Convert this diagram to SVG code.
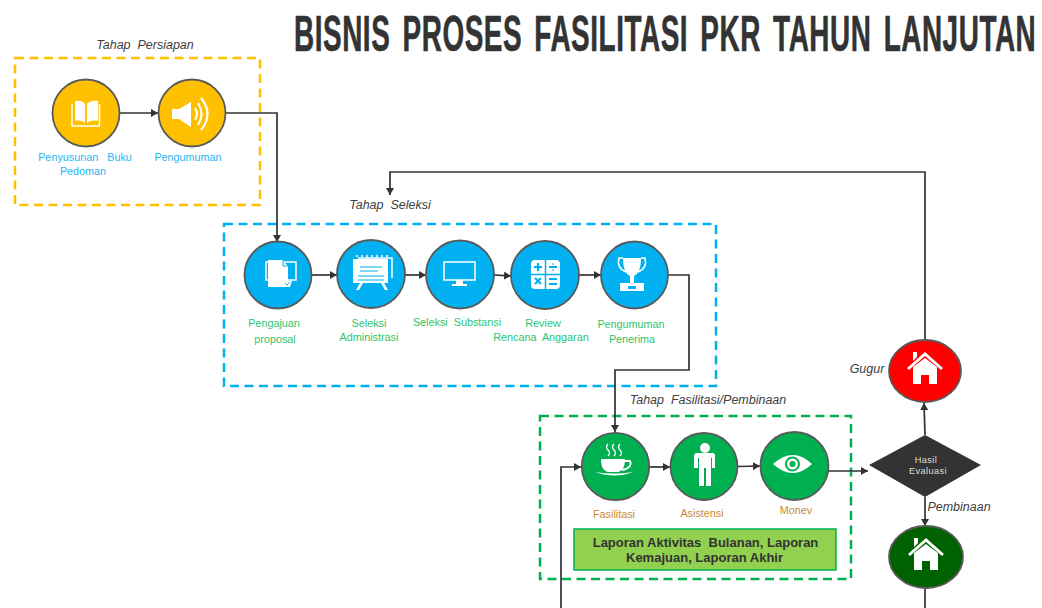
<svg xmlns="http://www.w3.org/2000/svg" width="1042" height="608" viewBox="0 0 1042 608">
<style>
text{font-family:"Liberation Sans",Arial,sans-serif}
.c{stroke:#595959;stroke-width:1.800}
.y{fill:#FFC000}.b{fill:#00B0F0}.g{fill:#00B050}
.l{font-size:10.800px;text-anchor:middle}
.lb{fill:#29B6F0}.lg{fill:#2DC46E}.lo{fill:#C98A2E}
.h{font-size:12.500px;font-style:italic;fill:#404040}
.box{fill:none;stroke-width:2.500;stroke-dasharray:9 5.500}
.con{fill:none;stroke:#333;stroke-width:1.700}
.w{fill:#fff}
.ws{fill:none;stroke:#fff}
.lap{font-size:13px;font-weight:700;fill:#333;text-anchor:middle}
.ev{font-size:9.200px;fill:#ddd;text-anchor:middle;letter-spacing:.4px}
</style>
<defs>
<marker id="a" markerUnits="userSpaceOnUse" markerWidth="8" markerHeight="8" refX="7" refY="4" orient="auto"><path d="M0 0L7 4L0 8z" fill="#333"/></marker>
<g id="house"><path class="w" d="M-12-3L0-12L12-3V14H4V5H-4V14H-12z"/><path class="ws" stroke-width="3" d="M-17-1L0-16L17-1"/><path class="w" d="M-12-18H-8V-13L-12-9z"/></g>
</defs>
<text id="title" transform="translate(294 51) scale(.558 1)" font-size="50" font-weight="700" fill="#333" stroke="#333" stroke-width=".6" letter-spacing="1" word-spacing="7">BISNIS PROSES FASILITASI PKR TAHUN LANJUTAN</text>

<g id="stage-persiapan"><rect class="box" x="15" y="58" width="245" height="147" stroke="#FFC000"/><text class="h" x="145" y="49" text-anchor="middle" xml:space="preserve">Tahap  Persiapan</text></g>
<g id="stage-seleksi"><rect class="box" x="224" y="224" width="492" height="162" stroke="#00B0F0"/><text class="h" x="390" y="209" text-anchor="middle" xml:space="preserve">Tahap  Seleksi</text></g>
<g id="stage-fasilitasi"><rect class="box" x="540" y="416" width="311" height="163" stroke="#00B050"/><text class="h" x="708" y="404" text-anchor="middle" xml:space="preserve">Tahap  Fasilitasi/Pembinaan</text></g>

<g id="connectors">
<path class="con" marker-end="url(#a)" d="M120 113H158"/>
<path class="con" marker-end="url(#a)" d="M226 113H277V242"/>
<path class="con" marker-end="url(#a)" d="M312 275H337"/>
<path class="con" marker-end="url(#a)" d="M405 275H426"/>
<path class="con" marker-end="url(#a)" d="M494 275L511 276"/>
<path class="con" marker-end="url(#a)" d="M579 275H601"/>
<path class="con" marker-end="url(#a)" d="M668 275H689V370H615V432"/>
<path class="con" marker-end="url(#a)" d="M561 608V467H581"/>
<path class="con" marker-end="url(#a)" d="M649 467H670"/>
<path class="con" marker-end="url(#a)" d="M738 466.500L760 466"/>
<path class="con" marker-end="url(#a)" d="M828 471H868"/>
<path class="con" marker-end="url(#a)" d="M925 435L924 403"/>
<path class="con" marker-end="url(#a)" d="M925 497V526"/>
<path class="con" d="M925 588V608"/>
<path class="con" marker-end="url(#a)" d="M925 340V172H390V195"/>
</g>

<g id="n-penyusunan"><circle class="c y" cx="86" cy="113" r="33.500"/>
<path class="w" d="M75 101C80 100 84 102 85 104V123C83 121 79 120 75 121zM87 104C89 102 93 100 98 101V121C94 120 90 121 87 123z"/>
<path class="ws" stroke-width="1.500" d="M72 104V126H99.500V104"/>
<text class="l lb" x="85" y="161" xml:space="preserve">Penyusunan   Buku</text><text class="l lb" x="83" y="175">Pedoman</text></g>

<g id="n-pengumuman"><circle class="c y" cx="192" cy="113" r="33.500"/>
<path class="w" d="M172 109H179L191 102V127L179 119H172z"/>
<path class="ws" stroke-width="2.200" d="M195 108Q199 114 195 120M198 103Q205 114 198 125M201 98Q214 114 201 130"/>
<text class="l lb" x="188" y="161">Pengumuman</text></g>

<g id="n-pengajuan"><circle class="c b" cx="278" cy="275" r="33.500"/>
<path class="ws" stroke-width="1.500" d="M266 262H296V280H266z"/><path class="w" d="M268 260H282L288 266V287H268z"/><path d="M283 261V266H288" fill="none" stroke="#00B0F0"/><path class="w" d="M284 281H292L290 287H283z"/><path d="M285 283L287 285L290 282" fill="none" stroke="#00B0F0"/>
<text class="l lg" x="274" y="327">Pengajuan</text><text class="l lg" x="275" y="343">proposal</text></g>

<g id="n-seleksi-adm"><circle class="c b" cx="371" cy="274" r="34"/>
<path class="w" d="M353 259H388V283H353z"/><path class="ws" stroke-width="1.500" d="M358 258H392V278"/><path class="ws" stroke-width="1.300" stroke-dasharray="2 3" d="M356 256H390"/>
<path d="M360 267H382M360 271H378" stroke="#00B0F0" stroke-width="1"/><path d="M358 276H384M358 280H384" stroke="#00B0F0" stroke-width="1"/>
<path class="w" d="M360 283H363L359 290H356zM381 283H384L388 290H385z"/>
<text class="l lg" x="369" y="327">Seleksi</text><text class="l lg" x="369" y="341">Administrasi</text></g>

<g id="n-seleksi-sub"><circle class="c b" cx="460" cy="274.500" r="34"/>
<rect x="444" y="262" width="31" height="18" fill="none" stroke="#fff" stroke-width="1.500"/><path class="w" d="M456 280H463V284H467V286H452V284H456z"/>
<text class="l lg" x="457" y="326" xml:space="preserve">Seleksi  Substansi</text></g>

<g id="n-review"><circle class="c b" cx="545" cy="275" r="34"/>
<rect class="w" x="531" y="260" width="29" height="29" rx="4"/><path d="M545.500 260V289M531 274.500H560" stroke="#00B0F0" stroke-width="1.500"/>
<path d="M534 267H542M538 263V271M549 267H557M535 278L541 284M541 278L535 284M549 279H557M549 284H557" stroke="#00B0F0" stroke-width="2.200"/><path d="M553 263.500V264.500M553 269.500V270.500" stroke="#00B0F0" stroke-width="2"/>
<text class="l lg" x="543" y="327">Review</text><text class="l lg" x="541" y="341" xml:space="preserve">Rencana  Anggaran</text></g>

<g id="n-penerima"><circle class="c b" cx="634.500" cy="275" r="33.500"/>
<path class="w" d="M623 258H641C641 269 638 274 634 276V283H630V276C626 274 623 269 623 258z"/><path class="ws" stroke-width="1.500" d="M623 258H619C617 266 621 270 626 272M641 258H645C647 266 643 270 638 272"/>
<path class="w" d="M620 283H644V291H620z"/><rect x="628" y="286" width="8" height="3" rx="1" fill="#00B0F0"/>
<text class="l lg" x="631" y="328">Pengumuman</text><text class="l lg" x="632" y="343">Penerima</text></g>

<g id="n-fasilitasi"><circle class="c g" cx="615.500" cy="466.500" r="33.700"/>
<path class="w" d="M601 459H625C625 468 622 471 618 472H608C604 471 601 468 601 459z"/><path class="ws" stroke-width="1.800" d="M624 461H630C632 465 629 469 622 470"/>
<path class="w" d="M595 472Q614 475 633 472Q615 479 595 472z"/>
<path class="ws" stroke-width="1.300" d="M608 444Q605 447 608 450Q611 453 608 456M614 444Q611 447 614 450Q617 453 614 456M620 444Q617 447 620 450Q623 453 620 456"/>
<text class="l lo" x="614" y="518">Fasilitasi</text></g>

<g id="n-asistensi"><circle class="c g" cx="704" cy="466.500" r="33.500"/>
<circle class="w" cx="705" cy="448" r="5"/>
<path class="w" d="M697 453H713Q715 453 715 456V468H712V458H711V486H706V468H704V486H699V458H698V468H694V456Q694 453 697 453z"/>
<text class="l lo" x="702" y="517">Asistensi</text></g>

<g id="n-monev"><circle class="c g" cx="794.500" cy="466" r="34"/>
<path class="w" d="M773 464Q793 446 812 464Q793 482 773 464z"/><circle cx="792.500" cy="464" r="6.500" fill="none" stroke="#00B050" stroke-width="2"/><circle cx="792.500" cy="464" r="3" fill="#00B050"/>
<text class="l lo" x="796" y="514">Monev</text></g>

<g id="n-laporan"><rect x="574" y="529" width="262" height="41" fill="#92D050" stroke="#00B050" stroke-width="1.500"/>
<text class="lap" x="705.500" y="547" xml:space="preserve">Laporan Aktivitas  Bulanan, Laporan</text><text class="lap" x="704.500" y="562">Kemajuan, Laporan Akhir</text></g>

<g id="n-hasil"><path d="M869 465L925 435L981 465L925 497z" fill="#333"/><text class="ev" x="926" y="463">Hasil</text><text class="ev" x="928" y="474">Evaluasi</text></g>

<g id="n-gugur"><ellipse class="c" cx="925" cy="371" rx="36" ry="31" fill="#f00"/><use href="#house" x="925" y="370"/><text class="h" x="867" y="373" text-anchor="middle">Gugur</text></g>
<g id="n-pembinaan"><ellipse class="c" cx="926" cy="557" rx="37" ry="31" fill="#006100"/><use href="#house" x="926" y="556"/><text class="h" x="959" y="511" text-anchor="middle">Pembinaan</text></g>
</svg>
